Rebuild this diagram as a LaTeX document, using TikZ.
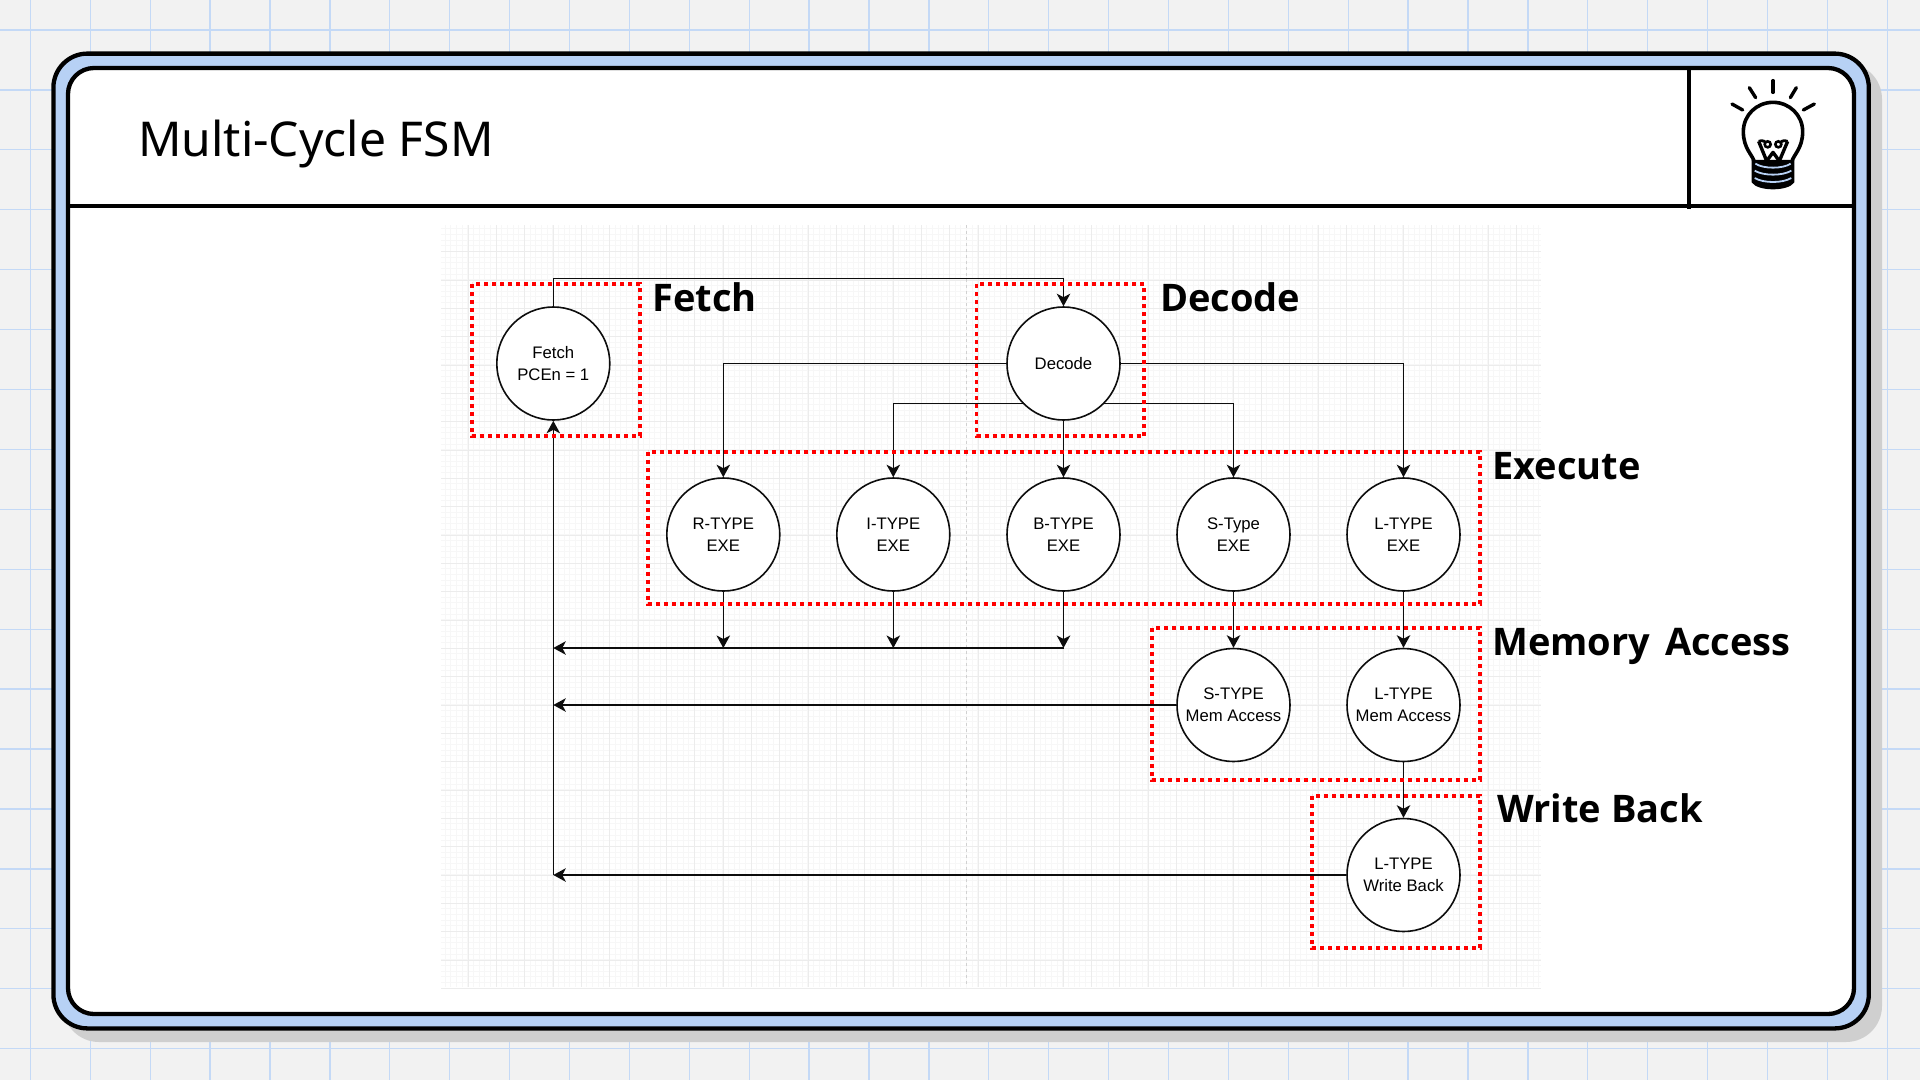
\documentclass[tikz,border=0pt]{standalone}
\usepackage{fontspec}
\usetikzlibrary{arrows.meta,calc}
\setmainfont{Liberation Sans}
\newfontfamily\headfont{Noto Sans}
\newfontfamily\headbold{Open Sans}
\definecolor{pagebg}{HTML}{F2F2F2}
\definecolor{pagegrid}{HTML}{C4D9F6}
\definecolor{frameblue}{HTML}{B7D1F5}
\definecolor{shadowgray}{HTML}{CFCFCF}
\definecolor{gridmajor}{HTML}{ECECEC}
\definecolor{gridminor}{HTML}{F7F7F7}
\pgfdeclarelayer{back}
\pgfdeclarelayer{edges}
\pgfdeclarelayer{front}
\pgfsetlayers{back,edges,main,front}
\tikzset{
  state/.style={circle,draw=black!95,line width=1.6pt,fill=white,minimum size=113pt,inner sep=0pt,align=center,
    font=\fontsize{16.7}{21.6}\selectfont},
  arr/.style={draw=black!95,line width=1.6pt,-{Stealth[length=12.5pt,width=13.5pt,inset=3.5pt]}},
  phase/.style={draw=red,line width=3.7pt,dash pattern=on 4pt off 4pt},
  phaselabel/.style={anchor=west,inner sep=0pt,font=\headbold\bfseries\fontsize{38}{44}\selectfont},
  heavy/.style={draw=black,line width=4.3pt},
  ray/.style={draw=black,line width=3.4pt,line cap=round},
}
\begin{document}
\begin{tikzpicture}[x=1pt,y=-1pt]
\useasboundingbox (0,0) rectangle (1920,1080);
\begin{pgfonlayer}{back}
  \fill[pagebg] (0,0) rectangle (1920,1080);
  \foreach \k in {0,...,31} {
    \pgfmathsetmacro{\gx}{30.4+\k*59.9}
    \draw[pagegrid,line width=1.3pt] (\gx,0) -- (\gx,1080);
  }
  \foreach \k in {0,...,17} {
    \pgfmathsetmacro{\gy}{30+\k*59.92}
    \draw[pagegrid,line width=1.3pt] (0,\gy) -- (1920,\gy);
  }
  % shadow
  \fill[shadowgray,rounded corners=36pt] (63,63) rectangle (1882,1042);
  % frame
  \filldraw[fill=frameblue,heavy,rounded corners=34pt] (53.4,53.6) rectangle (1868.8,1028.4);
  \filldraw[fill=white,heavy,rounded corners=26pt] (68,68) rectangle (1854,1014);
  \draw[heavy] (68,206) -- (1854,206);
  \draw[heavy] (1689,68) -- (1689,208.5);
  % drawing grid
  \foreach \k in {0,...,193} {
    \pgfmathsetmacro{\gx}{445.2+\k*5.6667}
    \draw[gridminor,line width=1pt] (\gx,225) -- (\gx,987);
  }
  \foreach \k in {0,...,134} {
    \pgfmathsetmacro{\gy}{228.7+\k*5.6667}
    \draw[gridminor,line width=1pt] (441,\gy) -- (1541,\gy);
  }
  \foreach \k in {0,...,37} {
    \pgfmathsetmacro{\gx}{468.3+\k*28.333}
    \draw[gridmajor,line width=1pt] (\gx,225) -- (\gx,987);
  }
  \foreach \k in {0,...,26} {
    \pgfmathsetmacro{\gy}{251.7+\k*28.333}
    \draw[gridmajor,line width=1pt] (441,\gy) -- (1541,\gy);
  }
  \draw[black!18,line width=1pt,dash pattern=on 3pt off 3pt] (966,225) -- (966,987);
\end{pgfonlayer}

\node[anchor=west,inner sep=0pt,font=\headfont\fontsize{48}{50}\selectfont] (title) at (138,144) {Multi-Cycle FSM};

% lightbulb
\begin{scope}[shift={(1725,75)},x=0.3333pt,y=-0.3333pt]
  \draw[ray] (144,17) -- (144,52);
  \draw[ray] (73,38) -- (92,68);
  \draw[ray] (214,38) -- (196,68);
  \draw[ray] (21,87) -- (53,105);
  \draw[ray] (268,87) -- (235,105);
  \draw[black,line width=3.6pt] (88,262) .. controls (84,240) and (55,222) .. (55,170)
     .. controls (55,120) and (95,82) .. (144,82)
     .. controls (193,82) and (233,120) .. (233,170)
     .. controls (233,222) and (204,240) .. (200,262);
  \fill[black] (80,255) -- (208,255) -- (208,322) .. controls (190,350) and (98,350) .. (80,322) -- cycle;
  \draw[frameblue,line width=1.8pt] (91,266) .. controls (115,282) and (173,282) .. (197,266);
  \draw[frameblue,line width=1.8pt] (89,287) .. controls (115,303) and (173,303) .. (199,287);
  \draw[frameblue,line width=1.8pt] (89,309) .. controls (115,325) and (173,325) .. (199,309);
  \draw[black,line width=3.4pt,line join=round] (101,199) -- (125,258) -- (144,232) -- (163,258) -- (188,199);
  \draw[black,line width=2.8pt] (101,199) .. controls (112,195) and (120,198) .. (126,205);
  \draw[black,line width=2.8pt] (188,199) .. controls (176,195) and (168,198) .. (162,205);
  \draw[black,line width=2.6pt,fill=white] (128,208) circle (9);
  \draw[black,line width=2.6pt,fill=white] (160,208) circle (9);
\end{scope}

% states
\node[state] (fetch)  at (553.3,363.5) {\vspace*{3.2pt}Fetch\\PCEn = 1};
\node[state] (decode) at (1063.5,363.5) {Decode};
\node[state] (rexe)   at (723.3,534.5) {\vspace*{3.2pt}R-TYPE\\EXE};
\node[state] (iexe)   at (893.3,534.5) {\vspace*{3.2pt}I-TYPE\\EXE};
\node[state] (bexe)   at (1063.5,534.5) {\vspace*{3.2pt}B-TYPE\\EXE};
\node[state] (sexe)   at (1233.5,534.5) {\vspace*{3.2pt}S-Type\\EXE};
\node[state] (lexe)   at (1403.5,534.5) {\vspace*{3.2pt}L-TYPE\\EXE};
\node[state] (smem)   at (1233.5,705) {\vspace*{3.2pt}S-TYPE\\Mem Access};
\node[state] (lmem)   at (1403.5,705) {\vspace*{3.2pt}L-TYPE\\Mem Access};
\node[state] (lwb)    at (1403.5,875) {\vspace*{3.2pt}L-TYPE\\Write Back};

\coordinate (toprail) at (553.3,278.3);
\coordinate (midrail) at (893.3,403.5);
\coordinate (exerail) at (553.3,648);

\begin{pgfonlayer}{edges}
  \draw[arr] (fetch) -- (fetch |- toprail) -- (decode |- toprail) -- (decode);
  \draw[arr] (decode) -- (decode -| rexe) -- (rexe);
  \draw[arr] (decode.center) -- (decode |- midrail) -- (iexe |- midrail) -- (iexe);
  \draw[arr] (decode.center) -- (decode |- midrail) -- (sexe |- midrail) -- (sexe);
  \draw[arr] (decode) -- (bexe);
  \draw[arr] (decode) -- (decode -| lexe) -- (lexe);
  \draw[arr] (rexe) -- (rexe |- exerail);
  \draw[arr] (iexe) -- (iexe |- exerail);
  \draw[arr] (bexe) -- (bexe |- exerail);
  \draw[arr] (bexe |- exerail) -- (exerail);
  \draw[arr] (sexe) -- (smem);
  \draw[arr] (lexe) -- (lmem);
  \draw[arr] (lmem) -- (lwb);
  \draw[arr] (smem) -- (smem -| fetch);
  \draw[arr] (lwb) -- (lwb -| fetch);
  \draw[arr] (lwb -| fetch) -- (fetch);
\end{pgfonlayer}

\begin{pgfonlayer}{front}
  \draw[phase] (472,284) rectangle (640,436);
  \draw[phase] (976.5,284) rectangle (1144,436);
  \draw[phase] (648,452) rectangle (1480,604);
  \draw[phase] (1152,628) rectangle (1480,780);
  \draw[phase] (1312,796) rectangle (1480,948);
\end{pgfonlayer}

\node[phaselabel] (lfetch)  at (652,297) {Fetch};
\node[phaselabel] (ldecode) at (1160,297) {Decode};
\node[phaselabel] (lexec)   at (1492,466) {Execute};
\node[phaselabel] (lmemacc) at (1492,646) {Memory\hspace{5pt} Access};
\node[phaselabel] (lwback)  at (1497,808) {Write Back};
\end{tikzpicture}
\end{document}
